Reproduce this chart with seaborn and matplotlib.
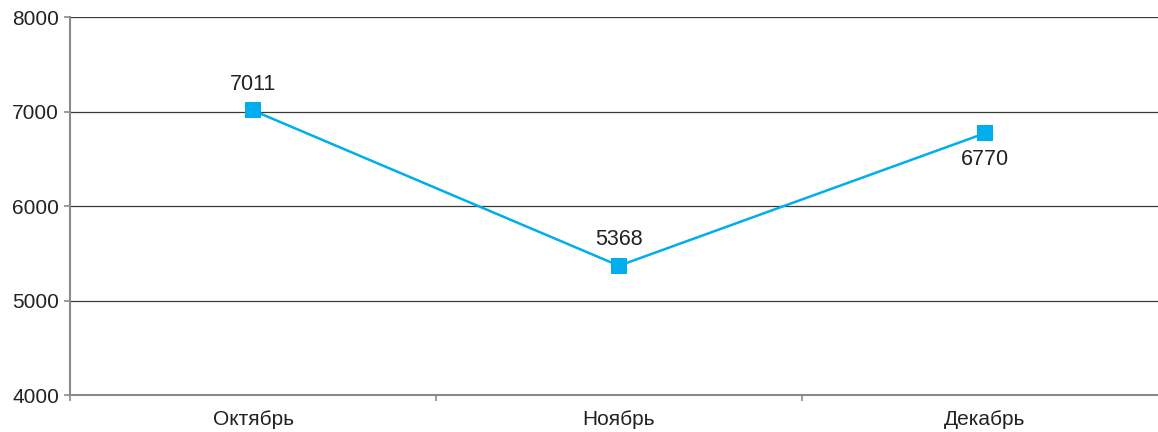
import matplotlib
matplotlib.use("Agg")
import matplotlib.pyplot as plt
import seaborn as sns
import pandas as pd

months = ["Октябрь", "Ноябрь", "Декабрь"]
values = [7011, 5368, 6770]
label_offsets = [26, 26, -26]  # pixels above (+) or below (-) each marker
y_ticks = [4000, 5000, 6000, 7000, 8000]

sns.set_theme(style="white")
plt.rcParams["font.family"] = ["Liberation Sans", "DejaVu Sans"]

df = pd.DataFrame({"month": months, "value": values})

fig = plt.figure(figsize=(11.58, 4.32), dpi=100)
ax = fig.add_axes([0.0605, 0.0856, 0.948, 0.875])

color = "#00AEEF"
sns.lineplot(data=df, x="month", y="value", ax=ax, color=color,
             linewidth=1.8, marker="s", markersize=12, markeredgewidth=0,
             sort=False)

for i, (v, off) in enumerate(zip(values, label_offsets)):
    ax.annotate(str(v), (i, v), xytext=(0, off * 0.72), textcoords="offset points",
                ha="center", va="center", fontsize=15.5, color="#222222")

ax.set_ylim(4000, 8000)
ax.set_xlim(-0.5, 2.5)
ax.set_yticks(y_ticks)
ax.set_xticks(range(len(months)))
ax.set_xticklabels(months)
ax.set_xticks([-0.5, 0.5, 1.5, 2.5], minor=True)
ax.set_xlabel("")
ax.set_ylabel("")

for y in y_ticks[1:]:
    ax.axhline(y, color="#3a3a3a", linewidth=0.9, zorder=0)

for s in ["top", "right"]:
    ax.spines[s].set_visible(False)
for s in ["left", "bottom"]:
    ax.spines[s].set_color("#8a8a8a")
    ax.spines[s].set_linewidth(1.5)

ax.tick_params(axis="y", which="major", length=4, width=1.2, color="#8a8a8a",
               direction="out", left=True, labelsize=15, labelcolor="#222222", pad=4)
ax.tick_params(axis="x", which="major", length=0, labelsize=15,
               labelcolor="#222222", pad=11)
ax.tick_params(axis="x", which="minor", length=4, width=1.2, color="#8a8a8a",
               direction="out", bottom=True)

fig.savefig("out.png", dpi=100)
